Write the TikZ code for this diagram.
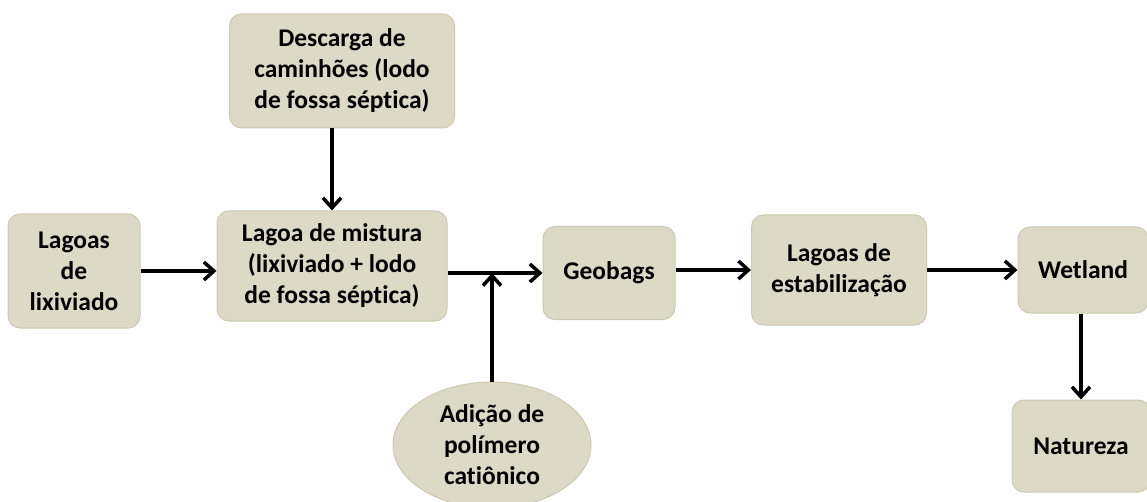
\documentclass[tikz,border=0pt]{standalone}
\usepackage{fontspec}
\setmainfont{Carlito}[Ligatures={NoCommon}]
\usetikzlibrary{positioning}
\usetikzlibrary{shapes.geometric}
\usetikzlibrary{arrows.meta}
\definecolor{tanfill}{RGB}{221,217,199}
\definecolor{tanedge}{RGB}{205,200,178}

\begin{document}
\begin{tikzpicture}[x=1pt, y=-1pt, node distance=100pt,
    every node/.style={font=\fontsize{25.5}{31}\selectfont\bfseries, align=center},
    stage/.style={draw=tanedge, line width=1pt, fill=tanfill, rectangle, rounded corners=12pt, inner sep=0pt},
    flow/.style={line width=4pt, -{Straight Barb[length=10pt, width=18pt, line width=3.5pt]}}]
        \useasboundingbox (0,0) rectangle (1147,502);
        % Main line: mixing pond
        \node[stage, minimum width=230pt, minimum height=110pt] (mix) at (332,266) {Lagoa de mistura\\(lixiviado + lodo\\de fossa séptica)};
        % Leachate ponds
        \node[stage, minimum width=132pt, minimum height=114pt, left of=mix, xshift=-158pt, yshift=-5pt] (leach) {Lagoas\\de\\lixiviado};
        % Truck discharge
        \node[stage, minimum width=225pt, minimum height=114pt, above of=mix, yshift=95pt, xshift=10pt] (truck) {Descarga de\\caminhões (lodo\\de fossa séptica)};
        % Geobags
        \node[stage, minimum width=132pt, minimum height=93pt, right of=mix, xshift=177pt, yshift=-7pt] (geo) {Geobags};
        % Stabilization ponds
        \node[stage, minimum width=175pt, minimum height=110pt, right of=geo, xshift=130pt, yshift=3pt] (stab) {Lagoas de\\estabilização};
        % Wetland
        \node[stage, minimum width=130pt, minimum height=86pt, right of=stab, xshift=144pt] (wet) {Wetland};
        % Nature
        \node[stage, minimum width=138pt, minimum height=92pt, below of=wet, yshift=-76pt, xshift=-2pt] (nat) {Natureza};
        % Polymer addition
        \node[stage, ellipse, rounded corners=0pt, minimum width=198pt, minimum height=126pt, below of=geo, xshift=-117pt, yshift=-72pt] (poly) {Adição de\\polímero\\catiônico};
        \coordinate (join) at (poly.north |- geo.west);

        % Arrows
        \draw[flow] (truck.south -| mix.north) -- (mix.north);
        \draw[flow] (leach.east) -- (leach.east -| mix.west);
        \draw[-, line width=4pt] (mix.east |- geo.west) -- (join);
        \draw[flow] (join) -- (geo.west);
        \draw[flow] (poly.north) -- (join);
        \draw[flow] (geo.east |- stab.west) -- (stab.west);
        \draw[flow] (stab.east) -- (wet.west);
        \draw[flow] (wet.south -| nat.north) -- (nat.north);
    \end{tikzpicture}
\end{document}
